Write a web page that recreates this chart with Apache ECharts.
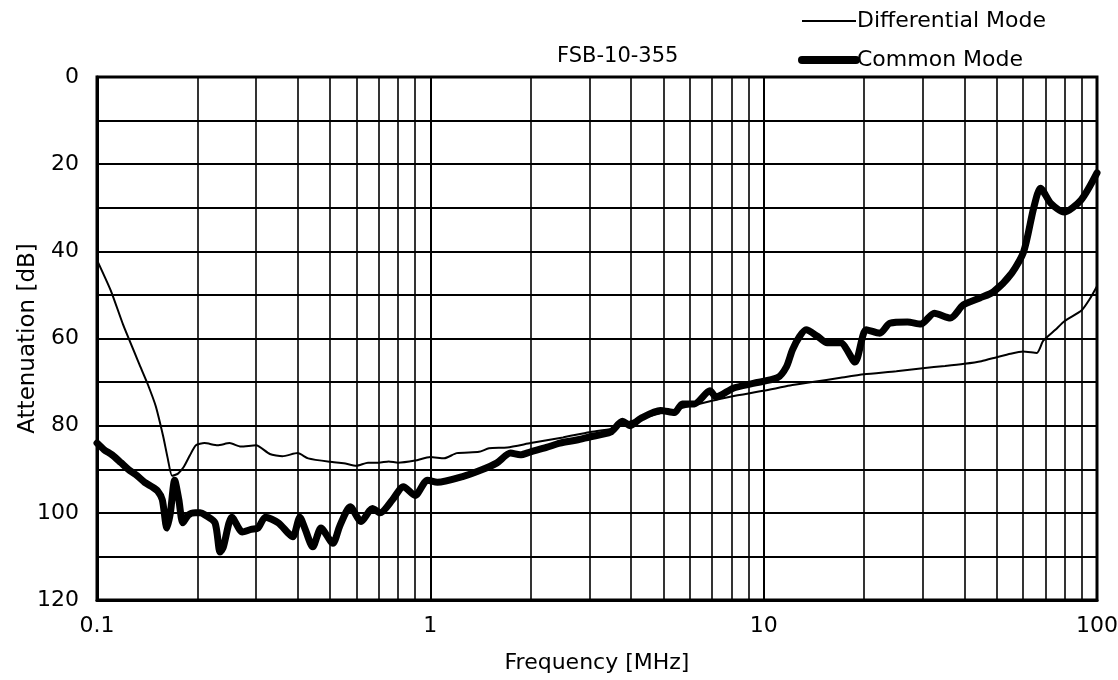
<!DOCTYPE html>
<html>
<head>
<meta charset="utf-8">
<script src="https://cdn.jsdelivr.net/npm/echarts@6.0.0/dist/echarts.min.js"></script>
<style>html,body{margin:0;background:#fff}#chart{width:1118px;height:680px}</style>
</head>
<body>
<div id="chart"></div>
<script>
// Differential mode (thin line), MHz / dB
const diffFreq = [0.1, 0.11, 0.12, 0.135, 0.142, 0.15, 0.158, 0.163, 0.168, 0.175, 0.182, 0.19, 0.198, 0.21, 0.23, 0.25, 0.27, 0.3,
  0.33, 0.36, 0.4, 0.43, 0.5, 0.55, 0.6, 0.65, 0.7, 0.75, 0.8, 0.9, 1.0, 1.1, 1.2, 1.4, 1.5, 1.7, 2.0, 2.5, 3.0, 3.5,
  4.0, 5.0, 6.0, 7.0, 8.0, 10, 12, 14, 17, 20, 25, 30, 35, 40, 45, 50, 55, 60, 66, 69, 75, 80, 90, 95, 100];
const diffDb = [42, 49, 57, 66.5, 70.5, 75.5, 82.5, 87.5, 91.5, 91, 89.5, 86.8, 84.5, 84, 84.5, 84, 84.8, 84.5,
  86.5, 87, 86.3, 87.5, 88.3, 88.6, 89.2, 88.5, 88.5, 88.2, 88.5, 88, 87.2, 87.5, 86.3, 86, 85.2, 85, 84, 82.7, 81.5, 80.7,
  79, 77, 75.5, 74.3, 73.3, 72, 70.8, 70, 69, 68.2, 67.5, 66.8, 66.3, 65.8, 65.2, 64.3, 63.5, 63, 63.3, 60.5, 58, 56, 53.5, 51, 48];

// Common mode (thick line)
const commonFreq = [0.1, 0.105, 0.111, 0.118, 0.124, 0.132, 0.139, 0.146, 0.152, 0.157, 0.162, 0.166, 0.171, 0.176, 0.181,
  0.188, 0.197, 0.204, 0.211, 0.226, 0.234, 0.239, 0.254, 0.273, 0.29, 0.304, 0.32, 0.35, 0.374, 0.387, 0.406, 0.42, 0.444,
  0.47, 0.51, 0.535, 0.575, 0.62, 0.67, 0.707, 0.77, 0.83, 0.9, 0.98, 1.05, 1.25, 1.42, 1.58, 1.74, 1.86, 2.0, 2.23, 2.45,
  2.75, 3.0, 3.47, 3.77, 3.98, 4.28, 4.9, 5.4, 5.7, 6.2, 6.9, 7.2, 8.1, 9.3, 11, 11.7, 12.2, 12.8, 13.4, 14.5, 15.5, 17,
  18.8, 20.3, 22.3, 23.9, 27, 29.6, 32.5, 36.3, 39.7, 44.5, 48.9, 55.5, 60.3, 64.6, 67.7, 72.7, 79.6, 89.6, 100];
const commonDb = [84, 85.5, 86.7, 88.5, 90, 91.5, 93, 94, 95, 97, 103.5, 100, 92.5, 97, 102.3,
  100.5, 100, 100, 100.5, 102.3, 109, 108, 101, 104.4, 103.8, 103.5, 101, 102.3, 104.6, 105.5, 101, 103.5, 107.8,
  103.5, 107, 103, 98.6, 102, 99, 100, 97, 94, 96, 92.5, 93, 91.7, 90.2, 88.6, 86.3, 86.7, 86, 85, 84,
  83.3, 82.6, 81.5, 79, 80, 78.3, 76.5, 77, 75, 75, 72, 73.4, 71.4, 70.3, 69, 66.5, 62.6, 59.6, 58, 59.5, 61, 61,
  65.4, 58, 58.8, 56.5, 56.2, 56.7, 54.2, 55.3, 52.3, 50.7, 49.3, 45, 40, 30, 25.5, 29, 31, 28.2, 22];

// vertical grid lines between decades
const minorFreqs = [0.2, 0.3, 0.4, 0.5, 0.6, 0.7, 0.8, 0.9, 2, 3, 4, 5, 6, 7, 8, 9, 20, 30, 40, 50, 60, 70, 80, 90];

const FONT = '"DejaVu Sans", "Liberation Sans", sans-serif';
const pairs = (xs, ys) => xs.map((x, i) => [x, ys[i]]);
const hidden = { color: 'rgba(0,0,0,0)', borderColor: 'rgba(0,0,0,0)', borderWidth: 0, opacity: 0 };

const chart = echarts.init(document.getElementById('chart'), null, { renderer: 'canvas' });
chart.setOption({
  animation: false,
  backgroundColor: '#fff',
  textStyle: { fontFamily: FONT, color: '#000' },
  title: {
    text: 'FSB-10-355',
    left: 552, top: 41,
    textStyle: { fontFamily: FONT, fontSize: 21, fontWeight: 'normal', color: '#000' }
  },
  legend: {
    data: [
      { name: 'Differential Mode', lineStyle: { color: '#000', width: 2 }, itemStyle: hidden },
      { name: 'Common Mode', lineStyle: { color: '#000', width: 8, cap: 'round' }, itemStyle: hidden }
    ],
    orient: 'vertical',
    left: 798, top: 10, padding: 0,
    itemWidth: 54, itemHeight: 14, itemGap: 17,
    textStyle: { fontFamily: FONT, fontSize: 22, color: '#000', padding: [0, 0, 0, -4] }
  },
  grid: { left: 97, right: 21, top: 77, bottom: 80, outerBoundsMode: 'none',
    show: true, borderColor: '#000', borderWidth: 3 },
  xAxis: {
    type: 'log', logBase: 10, min: 0.1, max: 100,
    name: 'Frequency [MHz]', nameLocation: 'middle', nameGap: 52,
    nameTextStyle: { fontFamily: FONT, fontSize: 22, color: '#000' },
    axisLine: { onZero: false, lineStyle: { color: '#000', width: 3 } },
    axisTick: { show: false },
    axisLabel: { fontFamily: FONT, fontSize: 22, color: '#000', margin: 15,
      formatter: v => String(+v.toPrecision(3)) },
    splitLine: { show: true, lineStyle: { color: '#000', width: 2 } }
  },
  yAxis: {
    type: 'value', inverse: true, min: 0, max: 120, interval: 10,
    name: 'Attenuation [dB]', nameLocation: 'middle', nameGap: 57, nameMoveOverlap: false,
    nameTextStyle: { fontFamily: FONT, fontSize: 23, color: '#000' },
    axisLine: { lineStyle: { color: '#000', width: 3 } },
    axisTick: { show: false },
    axisLabel: { fontFamily: FONT, fontSize: 22, color: '#000', margin: 18,
      formatter: v => (v % 20 === 0 ? String(v) : '') },
    splitLine: { show: true, lineStyle: { color: '#000', width: 2 } }
  },
  series: [
    {
      name: 'grid', type: 'line', data: [], silent: true, z: 1,
      markLine: {
        silent: true, symbol: 'none', animation: false,
        label: { show: false },
        lineStyle: { color: '#000', width: 1.6, type: 'solid' },
        data: minorFreqs.map(f => ({ xAxis: f }))
      }
    },
    {
      name: 'Differential Mode', type: 'line', z: 3,
      data: pairs(diffFreq, diffDb),
      symbol: 'none', smooth: 0.2,
      lineStyle: { color: '#000', width: 2 },
      itemStyle: { color: '#000' }
    },
    {
      name: 'Common Mode', type: 'line', z: 4,
      data: pairs(commonFreq, commonDb),
      symbol: 'none', smooth: 0.25,
      lineStyle: { color: '#000', width: 7, join: 'round', cap: 'round' },
      itemStyle: { color: '#000' }
    }
  ]
});
</script>
</body>
</html>
